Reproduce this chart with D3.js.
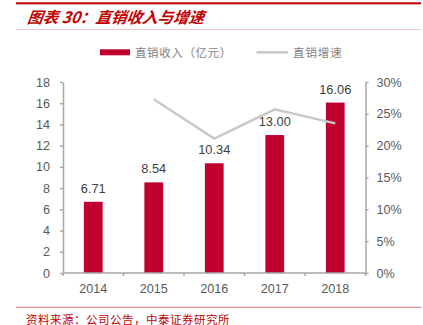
<!DOCTYPE html>
<html>
<head>
<meta charset="utf-8">
<script src="https://cdn.jsdelivr.net/npm/d3@7/dist/d3.min.js"></script>
<style>
  html, body { margin: 0; padding: 0; background: #fff; }
  svg { display: block; }
</style>
</head>
<body>
<svg id="chart" width="423" height="325"></svg>
<script>
// Direct-sales revenue (100M CNY) and its year-on-year growth
const years = ["2014", "2015", "2016", "2017", "2018"];
const revenue = [6.71, 8.54, 10.34, 13.00, 16.06];
const growthYears = ["2015", "2016", "2017", "2018"];
const growth = [27.3, 21.1, 25.7, 23.5];
const leftTicks = [0, 2, 4, 6, 8, 10, 12, 14, 16, 18];
const rightTicks = [0, 5, 10, 15, 20, 25, 30];

const titleText = "图表 30：直销收入与增速";
const sourceText = "资料来源：公司公告，中泰证券研究所";
const legendBar = "直销收入（亿元）";
const legendLine = "直销增速";

const RED = "#C0002F";
const GREY_LINE = "#C8C8C8";
const AXIS = "#A6A6A6";
const TEXT = "#595959";
const FONT = "'Liberation Sans', Arial, sans-serif";
const CJK = "'Noto Sans CJK SC', sans-serif";

const svg = d3.select("#chart");

// Header rules and title
svg.append("rect").attr("x", 16).attr("y", 2.3).attr("width", 405).attr("height", 2).attr("fill", "#C00000");
svg.append("text")
  .attr("x", 27).attr("y", 23)
  .attr("fill", "#C00000")
  .attr("font-family", CJK)
  .attr("font-size", 15.5)
  .attr("font-weight", "bold")
  .attr("font-style", "italic")
  .attr("transform", "skewX(-8) translate(3,0)")
  .text(titleText);
svg.append("rect").attr("x", 16).attr("y", 29).attr("width", 405).attr("height", 1).attr("fill", "#F2C6C6");

// Plot geometry
const x0 = 63, x1 = 365.5, yTop = 82, yBot = 273;

const x = d3.scaleBand().domain(years).range([x0, x1]).paddingInner(0.69).paddingOuter(0.345);
const xBand = d3.scaleBand().domain(years).range([x0, x1]);
const yL = d3.scaleLinear().domain([0, 18]).range([yBot, yTop]);
const yR = d3.scaleLinear().domain([0, 30]).range([yBot, yTop]);

// Bars
svg.append("g").selectAll("rect")
  .data(years)
  .join("rect")
  .attr("x", d => x(d))
  .attr("width", x.bandwidth())
  .attr("y", (d, i) => yL(revenue[i]))
  .attr("height", (d, i) => yBot - yL(revenue[i]))
  .attr("fill", RED);

// Value labels
svg.append("g").selectAll("text")
  .data(years)
  .join("text")
  .attr("x", d => x(d) + x.bandwidth() / 2)
  .attr("y", (d, i) => yL(revenue[i]) - 9)
  .attr("text-anchor", "middle")
  .attr("fill", "#404040")
  .attr("font-family", FONT)
  .attr("font-size", 12.8)
  .text((d, i) => revenue[i].toFixed(2));

// Growth line
const line = d3.line()
  .x((d, i) => xBand(growthYears[i]) + xBand.bandwidth() / 2)
  .y(d => yR(d));
svg.append("path")
  .datum(growth)
  .attr("d", line)
  .attr("fill", "none")
  .attr("stroke", GREY_LINE)
  .attr("stroke-width", 2.5)
  .attr("stroke-linejoin", "miter");

// Axes
function styleAxis(g) {
  g.select(".domain").attr("stroke", AXIS).attr("stroke-width", 1.5);
  g.selectAll(".tick line").attr("stroke", AXIS).attr("stroke-width", 1.5);
  g.selectAll(".tick text").attr("fill", TEXT).attr("font-family", FONT).attr("font-size", 12.6);
}

svg.append("g")
  .attr("transform", `translate(${x0},0)`)
  .call(d3.axisLeft(yL).tickValues(leftTicks).tickSize(3).tickSizeOuter(0).tickPadding(10))
  .call(styleAxis);

svg.append("g")
  .attr("transform", `translate(${x1},0)`)
  .call(d3.axisRight(yR).tickValues(rightTicks).tickSize(3).tickSizeOuter(0).tickPadding(8).tickFormat(d => d + "%"))
  .call(styleAxis);

// Category axis with ticks at band edges
const xAxisG = svg.append("g").attr("transform", `translate(0,${yBot})`);
xAxisG.append("line").attr("x1", x0).attr("x2", x1).attr("stroke", AXIS).attr("stroke-width", 1.5);
xAxisG.selectAll(".edge")
  .data(years.concat(["end"]))
  .join("line")
  .attr("class", "edge")
  .attr("x1", (d, i) => i < years.length ? xBand(d) : x1)
  .attr("x2", (d, i) => i < years.length ? xBand(d) : x1)
  .attr("y1", 0).attr("y2", 3)
  .attr("stroke", AXIS).attr("stroke-width", 1.5);
xAxisG.selectAll("text")
  .data(years)
  .join("text")
  .attr("x", d => xBand(d) + xBand.bandwidth() / 2)
  .attr("y", 20)
  .attr("text-anchor", "middle")
  .attr("fill", TEXT)
  .attr("font-family", FONT)
  .attr("font-size", 12.6)
  .text(d => d);

// Legend
const lg = svg.append("g");
lg.append("rect").attr("x", 100).attr("y", 49.3).attr("width", 30).attr("height", 6).attr("fill", RED);
lg.append("text").attr("x", 135).attr("y", 56.5)
  .attr("fill", "#7F7F7F").attr("font-family", CJK).attr("font-size", 11.5)
  .attr("letter-spacing", 0.6).text(legendBar);
lg.append("line").attr("x1", 256.5).attr("x2", 288).attr("y1", 52.3).attr("y2", 52.3)
  .attr("stroke", GREY_LINE).attr("stroke-width", 2.5);
lg.append("text").attr("x", 293).attr("y", 56.5)
  .attr("fill", "#7F7F7F").attr("font-family", CJK).attr("font-size", 11.5)
  .attr("letter-spacing", 0.9).text(legendLine);

// Footer rule and source
svg.append("rect").attr("x", 16).attr("y", 306.8).attr("width", 405).attr("height", 1).attr("fill", "#D97070");
svg.append("text")
  .attr("x", 26).attr("y", 323.5)
  .attr("fill", "#C00000")
  .attr("font-family", CJK)
  .attr("font-size", 11.5)
  .attr("letter-spacing", 0.5)
  .text(sourceText);
</script>
</body>
</html>
